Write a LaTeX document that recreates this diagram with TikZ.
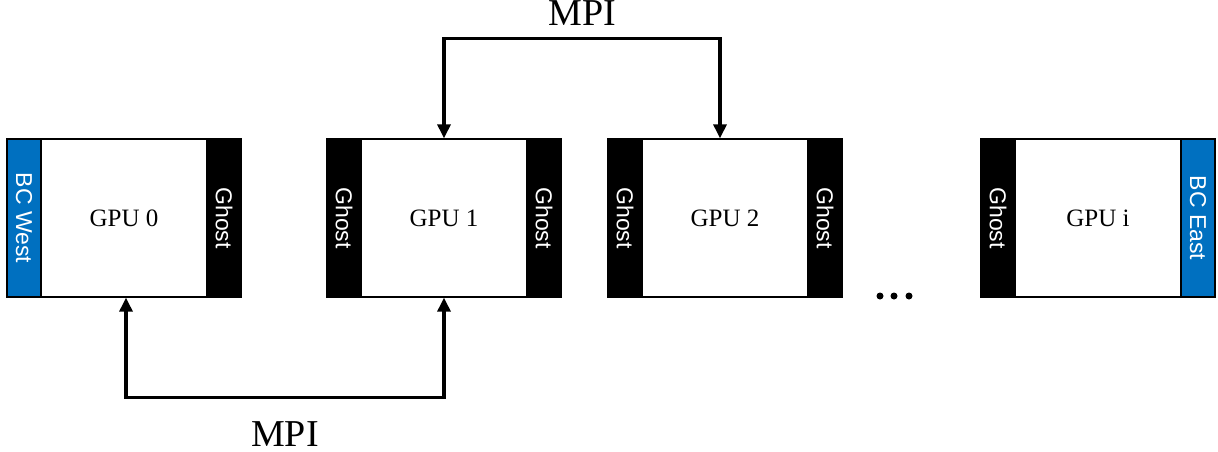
\documentclass[tikz,border=0pt]{standalone}
\usepackage{fontspec}
\setmainfont{Liberation Serif}
\setsansfont{Liberation Sans}
\usetikzlibrary{positioning,arrows.meta}
\definecolor{bcblue}{RGB}{0,112,192}

\begin{document}
\begin{tikzpicture}[x=1pt,y=-1pt,
	gpu/.style={draw,line width=1.3pt,minimum width=234pt,minimum height=158pt,inner sep=0pt,font=\fontsize{25}{30}\selectfont},
	strip/.style={draw,line width=1.3pt,rotate=-90,minimum width=158pt,minimum height=34pt,inner sep=0pt,text=white,font=\sffamily\fontsize{23}{28}\selectfont},
	ghost/.style={strip,fill=black},
	bc/.style={strip,fill=bcblue},
	mpiarrow/.style={line width=3.2pt,{Triangle[width=13pt,length=14pt]}-{Triangle[width=13pt,length=14pt]}},
	mpi/.style={inner sep=0pt,font=\fontsize{38}{44}\selectfont}]
\useasboundingbox (0,0) rectangle (1218,451);

\foreach \x/\l/\t in {124/g0/0,444/g1/1,725/g2/2,1098/gi/i}
	\node[gpu] (\l) at (\x,218) {GPU \t};
\node[bc,anchor=south] (bcw) at (g0.west) {BC West};
\foreach \l in {g1,g2,gi}
	\node[ghost,anchor=south] (\l-l) at (\l.west) {Ghost};
\foreach \l in {g0,g1,g2}
	\node[ghost,anchor=north] (\l-r) at (\l.east) {Ghost};
\node[bc,anchor=north] (bce) at (gi.east) {BC East};

\foreach \x in {880,894,909}
	\fill (\x,296) circle (3.5pt);

\draw[mpiarrow] (g1.north) -- ++(0,-100) -| node[mpi,pos=0.25,above=11pt] (mpiT) {MPI} ([xshift=-5pt]g2.north);
\draw[mpiarrow] ([xshift=2pt]g0.south) -- ++(0,100) -| node[mpi,pos=0.25,below=22pt] (mpiB) {MPI} (g1.south);
\end{tikzpicture}
\end{document}
